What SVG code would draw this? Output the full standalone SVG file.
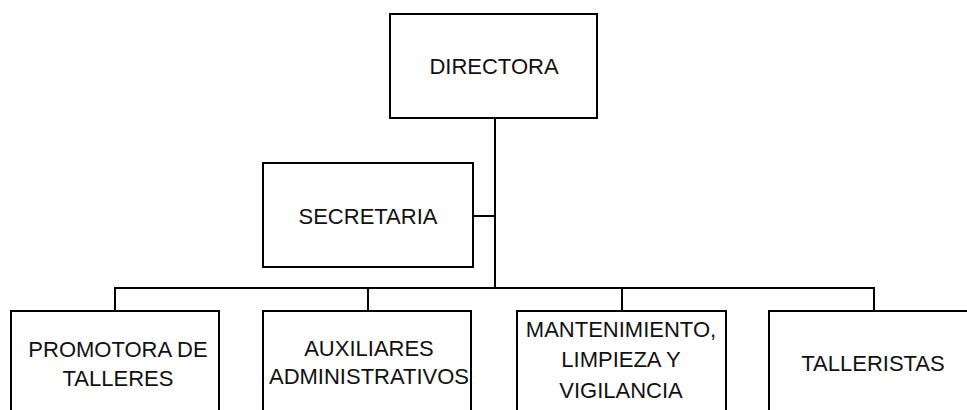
<svg xmlns="http://www.w3.org/2000/svg" width="967" height="410" viewBox="0 0 967 410">
<style>
.box{fill:#fff;stroke:#000;stroke-width:2}
.ln{fill:none;stroke:#000;stroke-width:2}
text{font-family:"Liberation Sans",Arial,sans-serif;font-size:22px;fill:#111;text-anchor:middle}
</style>
<rect width="967" height="410" fill="#fff"/>
<g id="connectors">
<path class="ln" d="M495 118V288M473 216H495M115 311V288H874V311M368 288V311M622 288V311"/>
</g>
<g id="directora">
<rect class="box" x="390" y="14" width="207" height="104"/>
<text x="494" y="74">DIRECTORA</text>
</g>
<g id="secretaria">
<rect class="box" x="263" y="163" width="210" height="104"/>
<text x="368" y="224">SECRETARIA</text>
</g>
<g id="promotora">
<rect class="box" x="11" y="311" width="208" height="110"/>
<text x="118" y="357">PROMOTORA DE</text>
<text x="118" y="386">TALLERES</text>
</g>
<g id="auxiliares">
<rect class="box" x="263" y="311" width="208" height="110"/>
<text x="369" y="356">AUXILIARES</text>
<text x="369" y="384">ADMINISTRATIVOS</text>
</g>
<g id="mantenimiento">
<rect class="box" x="517" y="311" width="209" height="110"/>
<text x="621" y="337">MANTENIMIENTO,</text>
<text x="621" y="367">LIMPIEZA Y</text>
<text x="621" y="398">VIGILANCIA</text>
</g>
<g id="talleristas">
<rect class="box" x="769" y="311" width="208" height="110"/>
<text x="873" y="371">TALLERISTAS</text>
</g>
</svg>
